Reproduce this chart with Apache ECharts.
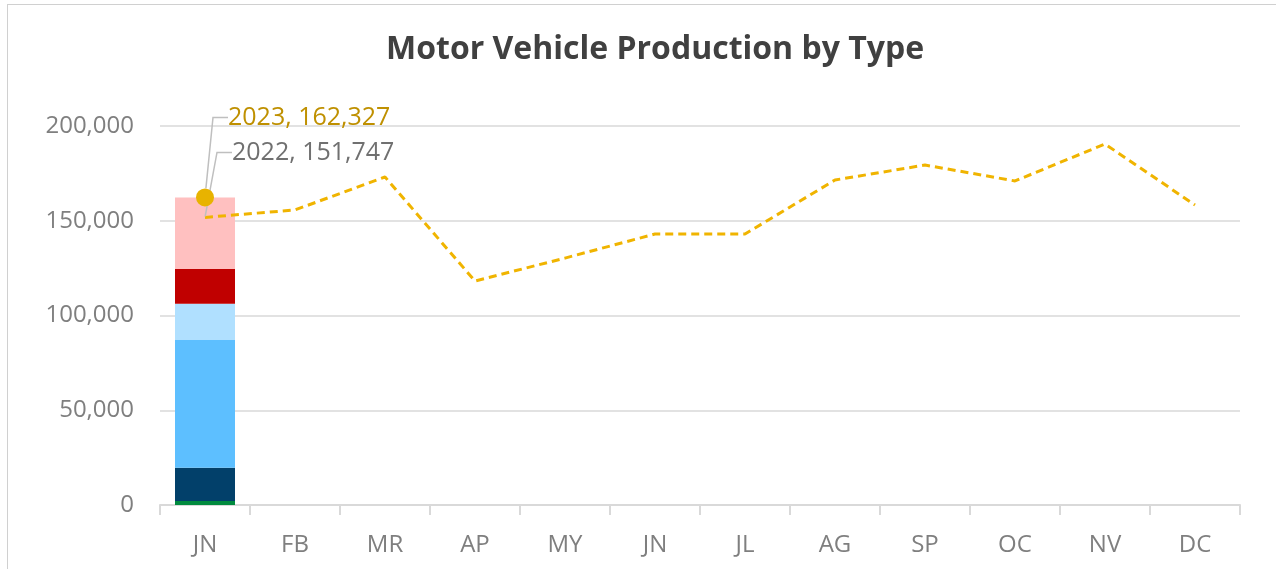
<!DOCTYPE html>
<html>
<head>
<meta charset="utf-8">
<title>Motor Vehicle Production by Type</title>
<script src="https://cdn.jsdelivr.net/npm/echarts@6/dist/echarts.min.js"></script>
<style>
  html, body { margin: 0; padding: 0; background: #fff; overflow: hidden; }
  #frame {
    position: absolute; left: 7px; top: 4px;
    width: 1400px; height: 700px;
    border: 1.5px solid #d0d0d0;
  }
  #chart { position: absolute; left: 0; top: 0; width: 1276px; height: 569px; }
</style>
</head>
<body>
<div id="frame"></div>
<div id="chart"></div>
<script>
  // month labels as printed on the axis
  var months = ['JN', 'FB', 'MR', 'AP', 'MY', 'JN', 'JL', 'AG', 'SP', 'OC', 'NV', 'DC'];

  // 2023 January, stacked by vehicle type (bottom to top)
  var typeNames = ['Heavy Trucks', 'Medium Trucks', 'Light Trucks', 'SUVs', 'Vans', 'Passenger Cars'];
  var typeColors = ['#008a3e', '#02406a', '#5dbfff', '#b0e0ff', '#c00000', '#ffc0c0'];
  var typeJan2023 = [2100, 17600, 67400, 19100, 18300, 37827];

  // 2022 monthly totals
  var total2022 = [151747, 155700, 173100, 118200, 130300, 143000, 143000, 171500, 179400, 171000, 190500, 158300];
  // 2023 totals (only January so far)
  var total2023 = [162327];

  var yTicks = [0, 50000, 100000, 150000, 200000];

  var fontFamily = '"Open Sans", "Liberation Sans", sans-serif';
  var grey = '#7f7f7f';

  function fmt(v) {
    return String(v).replace(/\B(?=(\d{3})+(?!\d))/g, ',');
  }

  var chart = echarts.init(document.getElementById('chart'), null, { renderer: 'canvas' });

  var series = typeNames.map(function(name, i) {
    return {
      name: name,
      type: 'bar',
      stack: 'jan',
      barWidth: 60,
      itemStyle: { color: typeColors[i] },
      data: [typeJan2023[i]],
      z: 2
    };
  });

  var leader = { show: true, length2: 15, lineStyle: { color: '#bfbfbf', width: 1.5 } };

  // only the first point of 2022 carries a label
  series.push({
    name: '2022',
    type: 'line',
    data: total2022.map(function(v, i) {
      var item = { value: v };
      if (i === 0) {
        item.symbol = 'circle';
        item.symbolSize = 2;
        item.itemStyle = { color: 'rgba(0,0,0,0)', borderWidth: 0 };
        item.label = {
          show: true,
          formatter: '2022, ' + fmt(v),
          color: '#707070',
          fontSize: 25,
          fontFamily: fontFamily,
          padding: [0, 0, 0, 7],
          position: 'right'
        };
      }
      return item;
    }),
    symbol: 'none',
    showSymbol: true,
    labelLayout: function(p) {
      if (p.dataIndex === 0) {
        return { dx: 14, dy: -65 };
      }
    },
    labelLine: leader,
    lineStyle: { color: '#f0b400', width: 3, type: [8, 5] },
    z: 3,
    animation: false
  });

  series.push({
    name: '2023',
    type: 'line',
    data: total2023,
    symbol: 'circle',
    symbolSize: 18,
    itemStyle: { color: '#e8b300' },
    lineStyle: { color: '#e8b300', width: 3 },
    label: {
      show: true,
      formatter: function(p) { return '2023, ' + fmt(p.value); },
      color: '#bf9000',
      fontSize: 25,
      fontFamily: fontFamily,
      padding: [0, 0, 0, 7],
      position: 'right'
    },
    labelLayout: { dx: 2, dy: -80 },
    labelLine: leader,
    z: 4,
    animation: false
  });

  chart.setOption({
    animation: false,
    title: {
      text: 'Motor Vehicle Production by Type',
      left: 381,
      top: 29,
      textStyle: {
        fontFamily: fontFamily,
        fontWeight: 'bold',
        fontSize: 32,
        color: '#404040'
      }
    },
    grid: { left: 160, right: 36, top: 126, bottom: 64, containLabel: false },
    xAxis: {
      type: 'category',
      data: months,
      boundaryGap: true,
      axisLine: { lineStyle: { color: '#d9d9d9', width: 2 } },
      axisTick: { show: true, length: 10, lineStyle: { color: '#d9d9d9', width: 2 } },
      axisLabel: {
        color: grey,
        fontSize: 24,
        fontFamily: fontFamily,
        margin: 28
      }
    },
    yAxis: {
      type: 'value',
      min: yTicks[0],
      max: yTicks[yTicks.length - 1],
      interval: 50000,
      axisLine: { show: false },
      axisTick: { show: false },
      splitLine: { lineStyle: { color: '#d9d9d9', width: 1.5 } },
      axisLabel: {
        color: grey,
        fontSize: 24,
        fontFamily: fontFamily,
        margin: 26,
        formatter: function(v) { return fmt(v); }
      }
    },
    series: series
  });
</script>
</body>
</html>
